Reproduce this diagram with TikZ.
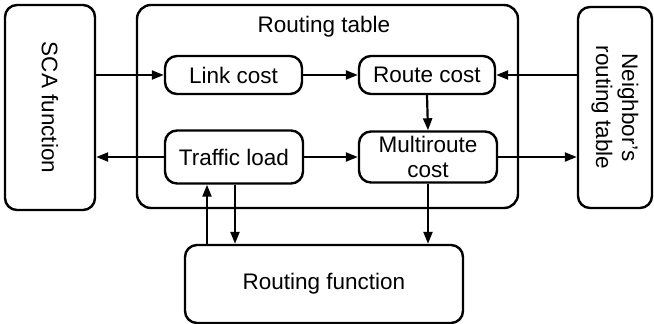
\documentclass[tikz,border=0pt]{standalone}
\usepackage{fontspec}
\setmainfont{Liberation Sans}
\usetikzlibrary{arrows.meta,calc}
\begin{document}
\begin{tikzpicture}[x=1pt,y=-1pt,
  txt/.style={font=\fontsize{22.5}{26}\selectfont},
  box/.style={draw,line width=2.4pt,rounded corners=12pt,inner sep=0pt,align=center,txt},
  conn/.style={line width=2.2pt,-{Triangle[length=12pt,width=9pt]}}]
\useasboundingbox (0,0) rectangle (654,324);
\node[box,minimum width=90pt,minimum height=205pt] (sca) at (50,107.5) {};
\node[rotate=-90,txt] (scat) at (sca.center) {SCA function};
\draw[line width=2.4pt,rounded corners=14pt] (137,5) rectangle (518,208);
\node[txt,inner sep=0pt] (rtl) at (324,27) {Routing table};
\node[box,minimum width=74pt,minimum height=201pt] (nb) at (615,107.5) {};
\node[rotate=-90,align=center,txt,font=\fontsize{22.5}{26}\selectfont] (nbt) at (nb.center) {Neighbor’s\\routing table};
\node[box,minimum width=137pt,minimum height=38pt] (link) at (233.5,75) {Link cost};
\node[box,minimum width=136pt,minimum height=38pt] (route) at (427,75) {Route cost};
\node[box,minimum width=138pt,minimum height=53pt] (traffic) at (234,157) {Traffic load};
\node[box,minimum width=138pt,minimum height=51pt,font=\fontsize{22.5}{25}\selectfont] (multi) at (428,157) {Multiroute\\cost};
\node[box,minimum width=278pt,minimum height=78pt] (rf) at (324,284) {Routing function};
\draw[conn] (sca.east |- link.west) -- (link.west);
\draw[conn] (link.east) -- (route.west);
\draw[conn] (nb.west |- route.east) -- (route.east);
\draw[conn] (route.south) -- (multi.north);
\draw[conn] (traffic.west) -- (sca.east |- traffic.west);
\draw[conn] (traffic.east) -- (multi.west);
\draw[conn] (multi.east) -- (nb.west |- multi.east);
\draw[conn] (multi.south) -- (multi.south |- rf.north);
\draw[conn] ([xshift=-27pt]traffic.south |- rf.north) -- ([xshift=-27pt]traffic.south);
\draw[conn] ([xshift=1pt]traffic.south) -- ([xshift=1pt]traffic.south |- rf.north);
\end{tikzpicture}
\end{document}
